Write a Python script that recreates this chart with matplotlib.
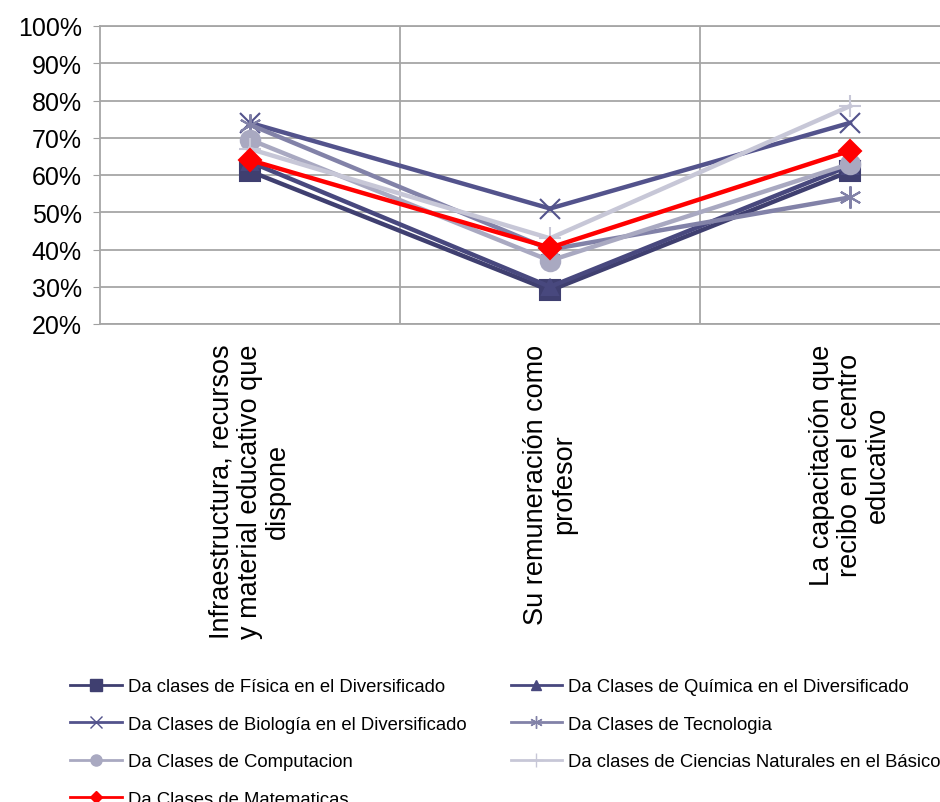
import numpy as np
import matplotlib.pyplot as plt
from matplotlib.lines import Line2D

plt.rcParams['font.family'] = ['Liberation Sans', 'DejaVu Sans']

# categories (x axis)
categories = ['Infraestructura, recursos\ny material educativo que\ndispone',
              'Su remuneración como\nprofesor',
              'La capacitación que\nrecibo en el centro\neducativo']

# one list per series, values in percent
fisica = [61, 29, 61]
quimica = [63.5, 30, 62.5]
biologia = [74, 51, 74]
tecnologia = [73.5, 40, 54]
computacion = [69.5, 37, 63]
ciencias = [67, 43, 78.5]
matematicas = [64, 40.5, 66.5]

series_names = ['Da clases de Física en el Diversificado',
                'Da Clases de Química en el Diversificado',
                'Da Clases de Biología en el Diversificado',
                'Da Clases de Tecnologia',
                'Da Clases de Computacion',
                'Da clases de Ciencias Naturales en el Básico',
                'Da Clases de Matematicas']
series_values = [fisica, quimica, biologia, tecnologia, computacion, ciencias, matematicas]

colours = ['#3f3f70', '#48487e', '#53538c', '#8282a8', '#a9a9c1', '#c7c7d7', '#ff0000']
markers = ['s', '^', 'x', (6, 2, 0), 'o', '+', 'D']
marker_sizes = [14, 12, 15, 16, 14, 16, 11]
legend_marker_sizes = [8, 7, 9, 9, 8, 10, 6]

fig = plt.figure(figsize=(9.4, 8.03), dpi=100)
ax = fig.add_axes([100/940, (803-325)/803, 900/940, 298/803])

x = np.arange(len(categories))
for vals, col, mk, ms in zip(series_values, colours, markers, marker_sizes):
    ax.plot(x, vals, color=col, linewidth=3.2, marker=mk, markersize=ms,
            markeredgewidth=1.5, markerfacecolor=col, markeredgecolor=col, solid_joinstyle='miter')

ax.set_xlim(-0.5, 2.5)
ax.set_ylim(20, 100)
ax.set_yticks(np.arange(20, 101, 10))
ax.set_yticklabels([str(v) + '%' for v in range(20, 101, 10)], fontsize=18)
ax.set_xticks(x)
ax.set_xticklabels(categories, rotation=90, fontsize=19.5, ma='center', linespacing=1.1)
ax.tick_params(axis='x', length=0, pad=14)
ax.tick_params(axis='y', length=5, color='#a0a0a0', pad=8)
ax.set_xticks([0.5, 1.5], minor=True)
ax.grid(axis='y', which='major', color='#a6a6a6', linewidth=1.3)
ax.grid(axis='x', which='minor', color='#a6a6a6', linewidth=1.3)
ax.tick_params(axis='x', which='minor', length=0)
ax.set_axisbelow(True)
for sp in ax.spines.values():
    sp.set_color('#a6a6a6')
    sp.set_linewidth(1.3)

# legend with smaller markers, laid out row by row like the original
handles = [Line2D([], [], color=c, linewidth=2.0, marker=m, markersize=s,
                  markerfacecolor=c, markeredgecolor=c)
           for c, m, s in zip(colours, markers, legend_marker_sizes)]
order = [0, 2, 4, 6, 1, 3, 5]
fig.legend([handles[i] for i in order], [series_names[i] for i in order],
           loc='upper left', bbox_to_anchor=(63/940, 1 - 672/803), ncol=2,
           frameon=False, fontsize=13.3, handlelength=2.8, handletextpad=0.3,
           columnspacing=2.4, labelspacing=1.11, borderaxespad=0)

fig.savefig('out.png', dpi=100)
